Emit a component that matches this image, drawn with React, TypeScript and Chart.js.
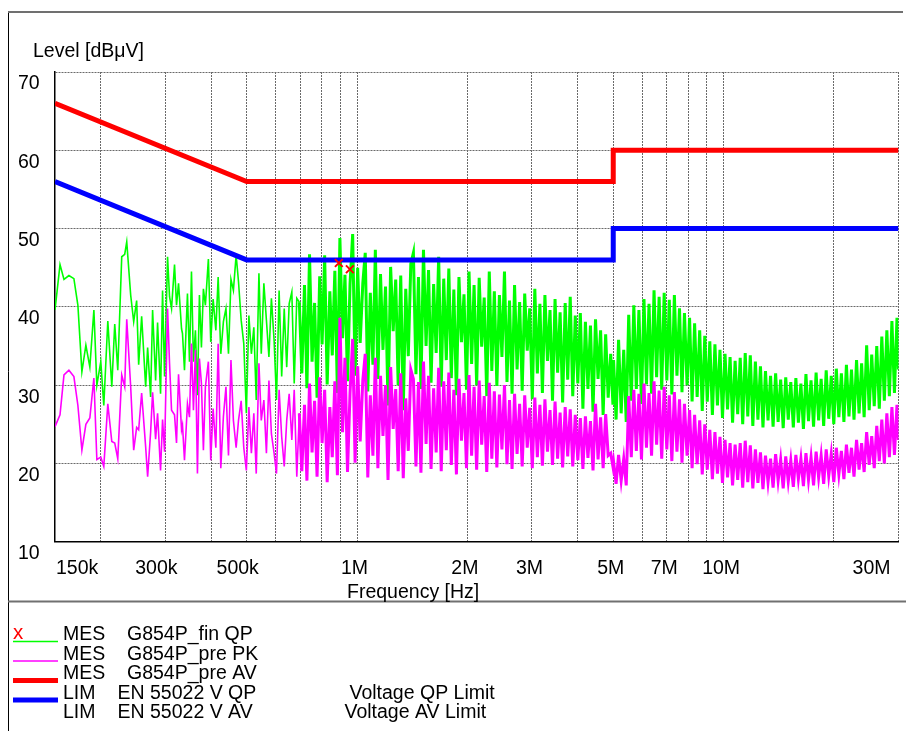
import React, { useEffect, useRef } from 'react';
import { Chart, registerables } from 'chart.js';

Chart.register(...registerables);

// ---------------- data ----------------
// sweep frequencies in kHz (shared by the PK and AV pre-scans)
const FREQ_KHZ: number[] = [
  150, 154.8, 158.7, 163.7, 168.9, 173.2, 177.6, 182.1, 186.7, 191.5,
  195.1, 200.0, 203.8, 209.0, 214.3, 218.3, 222.5, 228.1, 232.4, 235.4,
  241.3, 245.9, 250.5, 253.7, 258.5, 265.1, 268.4, 273.5, 276.9, 282.2,
  285.7, 291.1, 294.8, 298.5, 304.2, 308.0, 311.9, 317.8, 321.8, 325.9,
  332.1, 334.1, 338.3, 344.7, 349.1, 353.5, 357.9, 362.4, 367.0, 371.6,
  376.3, 381.0, 385.8, 393.1,
  399, 405, 412, 418, 425, 432, 439, 446, 453, 460,
  468, 475, 483, 491, 499, 507, 515, 523, 531, 540,
  548, 557, 566, 575, 584, 594, 603, 613, 623, 633,
  643, 653, 664, 674, 685, 696, 707, 719, 730, 742,
  754, 766, 778, 791, 803, 816, 829, 843, 856, 870,
  884, 898, 913, 927, 942, 957, 973, 988, 1004, 1020,
  1037, 1053, 1070, 1087, 1105, 1122, 1140, 1159, 1177, 1196,
  1215, 1235, 1255, 1275, 1295, 1316, 1337, 1358, 1380, 1402,
  1425, 1448, 1471, 1494, 1518, 1543, 1567, 1592, 1618, 1644,
  1670, 1697, 1724, 1752, 1780, 1808, 1837, 1867, 1897, 1927,
  1958, 1989, 2021, 2054, 2086, 2120, 2154, 2188, 2223, 2259,
  2295, 2332, 2369, 2407, 2446, 2485, 2525, 2565, 2606, 2648,
  2690, 2733, 2777, 2822, 2867, 2913, 2959, 3007, 3055, 3104,
  3154, 3204, 3255, 3308, 3361, 3414, 3469, 3525, 3581, 3638,
  3697, 3756, 3816, 3877, 3939, 4002, 4066, 4132, 4198, 4265,
  4333, 4403, 4473, 4545, 4618, 4692, 4767, 4843, 4921, 4990,
  5010, 5090, 5170, 5255, 5340, 5425, 5510, 5600, 5690, 5780,
  5875, 5970, 6065, 6160, 6260, 6360, 6460, 6565, 6670, 6780,
  6885, 7000, 7110, 7225, 7340, 7460, 7580, 7700, 7820, 7950,
  8075, 8205, 8335, 8470, 8605, 8745, 8885, 9025, 9170, 9320,
  9470, 9620, 9775, 9930, 10090, 10250, 10415, 10580, 10750, 10925,
  11100, 11275, 11455, 11640, 11825, 12015, 12210, 12405, 12605, 12805,
  13010, 13220, 13430, 13645, 13865, 14085, 14310, 14540, 14775, 15010,
  15250, 15495, 15745, 15995, 16250, 16510, 16775, 17045, 17320, 17595,
  17880, 18165, 18455, 18750, 19050, 19355, 19665, 19980, 20300, 20625,
  20955, 21290, 21630, 21980, 22330, 22685, 23050, 23420, 23795, 24175,
  24560, 24955, 25355, 25760, 26170, 26590, 27015, 27445, 27885, 28330,
  28785, 29245, 29715, 30000,
];

// MES G854P_pre PK (dBµV)
const PK_DBUV: number[] = [
  39.6, 45.4, 43.5, 44.0, 43.6, 40.2, 31.7, 35.1, 32.3, 39.6,
  30.0, 33.0, 27.4, 38.2, 29.8, 37.8, 31.9, 46.4, 46.7, 48.3,
  41.5, 38.1, 40.8, 32.6, 38.8, 29.8, 34.8, 28.5, 39.6, 30.6,
  38.0, 28.9, 42.1, 31.1, 46.4, 41.3, 39.8, 45.4, 40.2, 43.0,
  37.2, 36.6, 31.9, 41.7, 33.0, 44.5, 33.0, 37.0, 28.7, 41.5,
  34.8, 42.3, 40.2, 46.1,
  35.5, 41.0, 37.0, 43.8, 34.0, 38.1, 39.8, 34.0, 43.5, 42.1,
  46.6, 43.2, 38.3, 35.3, 26.4, 38.9, 34.0, 37.4, 28.1, 44.3,
  34.0, 43.0, 38.3, 33.6, 41.1, 35.7, 28.1, 42.1, 31.1, 39.8,
  32.3, 40.4, 41.9, 30.2, 41.1, 40.6, 31.5, 42.8, 29.6, 46.7,
  33.0, 40.5, 28.4, 43.9, 35.2, 46.6, 30.1, 42.0, 33.8, 44.6,
  29.0, 48.8, 36.0, 44.1, 30.5, 42.9, 49.3, 31.2, 45.0, 35.4,
  43.0, 46.9, 29.2, 41.8, 32.6, 47.3, 30.8, 44.2, 34.5, 42.6,
  27.4, 45.1, 36.9, 43.5, 30.0, 44.0, 26.8, 42.3, 33.7, 45.5,
  46.9, 31.4, 43.8, 29.5, 47.3, 35.0, 44.7, 30.3, 42.9, 34.1,
  46.4, 29.8, 43.6, 33.2, 44.9, 30.9, 42.2, 28.7, 43.8, 35.5,
  41.6, 29.4, 44.5, 32.7, 42.8, 30.0, 43.7, 34.9, 41.2, 28.6,
  44.5, 31.8, 42.0, 29.9, 41.5, 33.6, 44.5, 30.4, 40.8, 28.9,
  42.8, 32.0, 40.6, 29.3, 41.7, 34.4, 39.8, 28.2, 42.3, 31.5,
  40.4, 29.0, 41.5, 33.1, 39.6, 28.0, 41.0, 31.6, 39.3, 27.8,
  40.5, 30.7, 41.3, 28.6, 38.9, 30.2, 39.2, 27.0, 38.1, 29.5,
  37.6, 26.6, 38.4, 30.8, 37.0, 26.2, 36.5, 28.4, 34.0, 27.5,
  33.2, 25.6, 35.8, 26.4, 34.5, 25.3, 39.0, 28.0, 40.2, 29.5,
  39.6, 27.6, 41.0, 30.1, 40.4, 28.9, 42.1, 31.0, 41.3, 29.4,
  41.8, 30.6, 40.9, 28.8, 41.5, 31.2, 39.8, 29.1, 39.2, 30.0,
  38.6, 27.9, 37.9, 28.5, 37.0, 26.7, 36.3, 27.9, 35.6, 26.2,
  35.2, 27.4, 34.5, 25.8, 34.0, 26.9, 33.6, 25.2, 33.1, 26.3,
  33.5, 25.0, 34.1, 26.0, 33.8, 24.8, 33.0, 25.6, 32.4, 24.6,
  31.8, 25.5, 31.2, 24.7, 31.5, 25.3, 30.7, 24.5, 31.0, 25.6,
  30.4, 24.6, 30.9, 25.2, 30.2, 24.4, 31.4, 25.4, 30.6, 24.7,
  31.6, 25.5, 30.8, 24.8, 31.9, 25.7, 31.2, 25.0, 32.1, 25.9,
  31.5, 25.3, 32.6, 26.0, 32.0, 25.6, 33.2, 26.4, 32.8, 25.9,
  35.1, 26.8, 33.9, 27.3, 35.0, 27.0, 36.2, 28.0, 37.0, 28.6,
  38.2, 29.0, 38.6, 32.0,
];

// MES G854P_pre AV (dBµV)
const AV_DBUV: number[] = [
  24.7, 26.2, 31.3, 31.9, 31.1, 27.4, 21.7, 25.0, 25.8, 30.9,
  20.5, 20.8, 19.6, 27.6, 22.8, 22.6, 20.6, 31.3, 29.8, 38.4,
  29.8, 21.7, 24.6, 24.3, 29.0, 22.1, 18.3, 24.0, 29.1, 23.1,
  26.4, 19.1, 25.6, 21.5, 39.8, 32.8, 26.8, 26.2, 22.6, 31.4,
  24.3, 24.9, 20.4, 27.6, 25.9, 35.3, 26.8, 34.5, 18.7, 33.4,
  30.2, 21.7, 29.8, 33.0,
  20.4, 27.0, 22.0, 35.3, 19.4, 26.0, 29.8, 21.0, 33.2, 25.5,
  22.0, 25.5, 28.0, 22.0, 19.1, 27.2, 21.3, 26.4, 18.7, 32.8,
  25.5, 28.1, 21.3, 30.6, 23.8, 21.3, 18.7, 29.4, 23.4, 19.6,
  25.5, 28.9, 23.0, 29.4, 18.3, 26.4, 19.0, 27.5, 17.8, 30.2,
  21.4, 28.0, 18.3, 31.0, 22.6, 29.4, 17.6, 27.2, 20.8, 30.5,
  18.5, 38.6, 24.0, 33.5, 18.9, 29.0, 35.9, 20.1, 32.4, 22.8,
  30.6, 34.0, 18.2, 28.7, 21.0, 33.5, 19.4, 31.2, 23.5, 30.0,
  17.9, 32.3, 24.4, 29.5, 19.0, 31.5, 18.1, 28.3, 21.6, 32.0,
  30.8, 19.6, 30.4, 18.8, 33.0, 22.5, 31.2, 19.3, 29.6, 21.4,
  32.2, 19.0, 30.5, 21.7, 31.6, 19.8, 29.4, 18.6, 30.8, 22.9,
  29.0, 19.4, 31.3, 21.0, 29.8, 19.2, 30.6, 22.4, 28.6, 18.9,
  30.3, 20.6, 29.2, 19.5, 28.8, 21.8, 30.0, 19.9, 28.1, 19.3,
  28.9, 21.2, 27.6, 19.6, 28.7, 22.0, 27.1, 19.4, 28.4, 20.8,
  27.5, 19.7, 28.2, 21.5, 26.8, 19.8, 27.9, 20.6, 26.5, 19.5,
  27.2, 20.9, 26.9, 19.6, 26.2, 20.4, 25.8, 19.3, 26.0, 20.7,
  25.4, 19.1, 27.6, 20.5, 25.9, 19.4, 26.3, 21.0, 21.3, 19.6,
  20.2, 17.4, 21.1, 17.8, 20.6, 17.2, 28.6, 20.8, 29.4, 21.6,
  28.9, 20.5, 30.2, 22.0, 29.0, 21.0, 30.5, 22.4, 29.3, 20.6,
  29.8, 21.8, 28.7, 20.3, 29.1, 21.5, 28.2, 20.1, 27.6, 21.0,
  26.8, 19.4, 26.2, 19.9, 25.5, 18.6, 25.0, 19.2, 24.3, 18.0,
  24.0, 18.7, 23.4, 17.5, 23.0, 18.2, 22.6, 17.2, 22.4, 17.9,
  22.6, 16.9, 22.9, 17.6, 22.3, 16.8, 21.8, 17.5, 21.4, 16.7,
  21.0, 17.6, 20.6, 16.9, 21.2, 17.8, 20.5, 16.8, 20.9, 17.7,
  20.4, 17.0, 21.1, 18.0, 20.6, 17.1, 21.3, 17.9, 20.8, 17.2,
  21.5, 18.2, 21.0, 17.4, 21.8, 18.4, 21.2, 17.6, 22.0, 18.6,
  21.6, 18.0, 22.4, 18.8, 22.0, 18.3, 23.0, 19.2, 22.6, 18.9,
  24.0, 19.8, 23.5, 19.4, 24.8, 20.3, 25.6, 20.0, 26.4, 20.8,
  27.2, 21.1, 27.5, 23.0,
];

// LIM EN 55022 V QP / AV
const QP_LIMIT_KHZ = [150, 500, 5000, 5000, 30000];
const QP_LIMIT_DBUV = [66, 56, 56, 60, 60];
const AV_LIMIT_KHZ = [150, 500, 5000, 5000, 30000];
const AV_LIMIT_DBUV = [56, 46, 46, 50, 50];

// MES G854P_fin QP (final measurement points)
const FINAL_QP_KHZ = [892, 956];
const FINAL_QP_DBUV = [45.6, 44.8];

// axes
const X_GRID_KHZ = [200, 300, 400, 500, 600, 700, 800, 900, 1000, 2000, 3000, 4000, 5000, 6000, 7000, 8000, 9000, 10000, 20000, 30000];
const X_TICK_KHZ = [150, 300, 500, 1000, 2000, 3000, 5000, 7000, 10000, 30000];
const X_TICK_LABELS = ['150k', '300k', '500k', '1M', '2M', '3M', '5M', '7M', '10M', '30M'];
const Y_MIN = 10;
const Y_MAX = 70;
const Y_STEP = 10;
const Y_TITLE = 'Level [dBμV]';
const X_TITLE = 'Frequency [Hz]';

// legend text rows
const LEGEND_KIND = ['MES', 'MES', 'MES', 'LIM', 'LIM'];
const LEGEND_NAME = ['G854P_fin QP', 'G854P_pre PK', 'G854P_pre AV', 'EN 55022 V QP', 'EN 55022 V AV'];
const LEGEND_NOTE = ['', '', '', 'Voltage QP Limit', 'Voltage AV Limit'];

// ---------------- styling ----------------
const FONT = '"Liberation Sans", Arial, Helvetica, sans-serif';
const FS = 19.5;
const GREEN = '#00ff00';
const MAGENTA = '#ff00ff';
const RED = '#ff0000';
const BLUE = '#0000ff';
const GRID = '#6a6a6a';
// index where the sweep becomes dense on screen (drawn with a heavier pen)
const DENSE_FROM = 89;

const pts = (xs: number[], ys: number[]) => {
  const n = Math.min(xs.length, ys.length);
  const out: { x: number; y: number }[] = [];
  for (let i = 0; i < n; i++) out.push({ x: xs[i] * 1000, y: ys[i] });
  return out;
};

const decorPlugin = {
  id: 'decor',
  afterDraw(chart: any) {
    const ctx: CanvasRenderingContext2D = chart.ctx;
    const xs = chart.scales.x;
    ctx.save();
    // outer frame
    ctx.strokeStyle = '#000';
    ctx.lineWidth = 1;
    ctx.beginPath();
    ctx.moveTo(8.5, 12);
    ctx.lineTo(8.5, 731);
    ctx.stroke();
    ctx.strokeStyle = '#707070';
    ctx.lineWidth = 2;
    ctx.beginPath();
    ctx.moveTo(8, 12);
    ctx.lineTo(903, 12);
    ctx.stroke();
    ctx.beginPath();
    ctx.moveTo(8, 601.5);
    ctx.lineTo(906, 601.5);
    ctx.stroke();

    ctx.fillStyle = '#000';
    ctx.font = `${FS}px ${FONT}`;
    ctx.textBaseline = 'alphabetic';
    ctx.textAlign = 'left';
    ctx.fillText(Y_TITLE, 33, 57);
    ctx.fillText(X_TITLE, 347, 598);

    // x tick labels
    const last = X_TICK_KHZ.length - 1;
    X_TICK_KHZ.forEach((f, i) => {
      const px = xs.getPixelForValue(f * 1000);
      const lab = X_TICK_LABELS[i];
      if (i === 0) {
        ctx.textAlign = 'left';
        ctx.fillText(lab, px + 1, 574);
      } else if (i === last) {
        ctx.textAlign = 'right';
        ctx.fillText(lab, px - 8, 574);
      } else {
        ctx.textAlign = 'center';
        ctx.fillText(lab, px + (lab.endsWith('k') ? -9 : -2.5), 574);
      }
    });

    // legend
    ctx.textAlign = 'left';
    const base0 = 640;
    const step = 19.5;
    LEGEND_KIND.forEach((k, i) => {
      const by = base0 + i * step;
      ctx.fillStyle = '#000';
      ctx.fillText(k, 63, by);
      ctx.fillText(LEGEND_NAME[i], k === 'MES' ? 127 : 117.5, by);
      if (LEGEND_NOTE[i]) ctx.fillText(LEGEND_NOTE[i], i === 3 ? 349.5 : 344.5, by);
    });
    const swatches = [
      { c: GREEN, w: 1.5 },
      { c: MAGENTA, w: 1.5 },
      { c: RED, w: 5 },
      { c: BLUE, w: 5 },
    ];
    swatches.forEach((s, i) => {
      const y = base0 + i * step + 1.5;
      ctx.strokeStyle = s.c;
      ctx.lineWidth = s.w;
      ctx.beginPath();
      ctx.moveTo(13, y);
      ctx.lineTo(58, y);
      ctx.stroke();
    });
    ctx.fillStyle = RED;
    ctx.font = `20.5px ${FONT}`;
    ctx.fillText('x', 13, 638.5);
    ctx.restore();
  },
};

export default function App() {
  const ref = useRef<HTMLCanvasElement | null>(null);
  useEffect(() => {
    if (!ref.current) return;
    const pk = pts(FREQ_KHZ, PK_DBUV);
    const av = pts(FREQ_KHZ, AV_DBUV);
    const line = (label: string, data: any[], color: string, width: number, order: number) => ({
      label,
      data,
      showLine: true,
      borderColor: color,
      backgroundColor: color,
      borderWidth: width,
      pointRadius: 0,
      order,
    });
    const chart = new Chart(ref.current, {
      type: 'scatter',
      data: {
        datasets: [
          {
            label: 'MES G854P_fin QP',
            data: pts(FINAL_QP_KHZ, FINAL_QP_DBUV),
            showLine: false,
            pointStyle: 'crossRot',
            pointRadius: 5.5,
            pointBorderColor: RED,
            pointBackgroundColor: RED,
            pointBorderWidth: 2,
            order: 0,
          },
          line('LIM EN 55022 V AV', pts(AV_LIMIT_KHZ, AV_LIMIT_DBUV), BLUE, 5, 1),
          line('LIM EN 55022 V QP', pts(QP_LIMIT_KHZ, QP_LIMIT_DBUV), RED, 5, 2),
          line('MES G854P_pre AV', av.slice(0, DENSE_FROM + 1), MAGENTA, 1.6, 3),
          line('MES G854P_pre AV (dense)', av.slice(DENSE_FROM), MAGENTA, 3, 4),
          line('MES G854P_pre PK', pk.slice(0, DENSE_FROM + 1), GREEN, 1.6, 5),
          line('MES G854P_pre PK (dense)', pk.slice(DENSE_FROM), GREEN, 3, 6),
        ],
      },
      options: {
        animation: false,
        responsive: false,
        devicePixelRatio: 1,
        events: [],
        layout: { padding: { left: 18, right: 4, top: 72, bottom: 189.3 } },
        plugins: { legend: { display: false }, tooltip: { enabled: false }, title: { display: false } },
        scales: {
          x: {
            type: 'logarithmic',
            min: 150000,
            max: 30000000,
            afterBuildTicks: (s: any) => {
              s.ticks = X_GRID_KHZ.map((v) => ({ value: v * 1000 }));
            },
            afterFit: (s: any) => {
              s.height = 0;
            },
            ticks: { display: false },
            grid: { color: GRID, lineWidth: 1, drawTicks: false },
            border: { display: true, color: '#000', width: 1.5, dash: [2, 1] },
          },
          y: {
            type: 'linear',
            min: Y_MIN,
            max: Y_MAX,
            afterFit: (s: any) => {
              s.width = 37;
            },
            ticks: {
              stepSize: Y_STEP,
              labelOffset: 12,
              crossAlign: 'far',
              padding: 0,
              color: '#000',
              font: { family: FONT, size: FS },
            },
            grid: {
              color: (c: any) => (c.tick && c.tick.value === Y_MIN ? 'rgba(0,0,0,0)' : GRID),
              lineWidth: 1,
              drawTicks: false,
            },
            border: { display: true, color: '#000', width: 1.5, dash: [2, 1] },
          },
        },
      },
      plugins: [decorPlugin],
    } as any);
    return () => chart.destroy();
  }, []);
  return (
    <div style={{ position: 'fixed', left: 0, top: 0, width: 906, height: 731, background: '#fff' }}>
      <canvas ref={ref} width={906} height={731} style={{ display: 'block' }} />
    </div>
  );
}
